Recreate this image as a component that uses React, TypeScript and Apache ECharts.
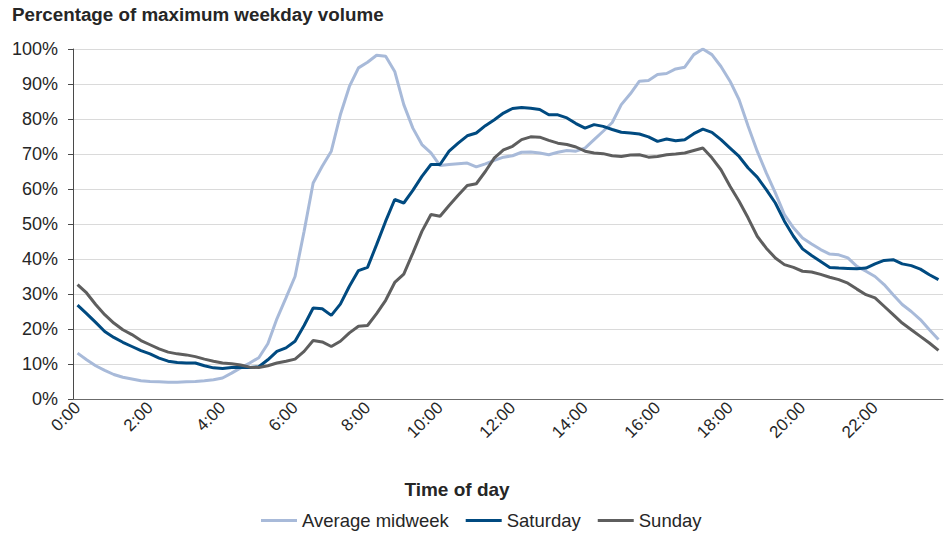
import React, { useEffect, useRef } from "react";
import * as echarts from "echarts";

const times: string[] = [];
for (let h = 0; h < 24; h++) {
  for (let m = 0; m < 60; m += 15) {
    times.push(`${h}:${m === 0 ? "00" : m}`);
  }
}

const midweek = [
  13.1, 11.2, 9.5, 8.2, 7.0, 6.2, 5.7, 5.2, 5.0, 4.9, 4.8, 4.8, 4.9, 5.0, 5.2, 5.5,
  6.0, 7.4, 8.9, 10.3, 11.8, 15.8, 22.9, 28.9, 35.0, 47.9, 61.7, 66.5, 70.8, 81.2, 89.3, 94.6,
  96.2, 98.2, 97.9, 93.6, 84.1, 77.4, 72.7, 70.3, 66.7, 67.0, 67.2, 67.4, 66.3, 67.2, 68.2, 69.1,
  69.5, 70.5, 70.6, 70.3, 69.8, 70.5, 71.0, 70.8, 71.7, 74.1, 76.5, 79.0, 84.1, 87.2, 90.8, 91.0,
  92.7, 93.0, 94.3, 94.8, 98.4, 100.0, 98.4, 95.0, 90.8, 85.5, 77.9, 70.8, 64.6, 58.9, 52.7, 48.9,
  46.0, 44.3, 42.7, 41.4, 41.2, 40.3, 37.9, 36.5, 35.0, 32.7, 29.8, 27.0, 25.0, 22.7, 19.8, 17.0,
];

const saturday = [
  26.8, 24.4, 21.9, 19.3, 17.6, 16.2, 15.0, 13.8, 12.9, 11.7, 10.8, 10.4, 10.3, 10.3, 9.5, 8.9,
  8.7, 9.0, 9.1, 9.0, 9.2, 11.2, 13.6, 14.6, 16.5, 21.0, 26.0, 25.8, 23.9, 27.1, 32.2, 36.7,
  37.6, 44.1, 50.8, 57.0, 56.0, 59.6, 63.6, 67.0, 67.0, 70.8, 73.1, 75.2, 76.0, 78.1, 79.8, 81.7,
  83.0, 83.3, 83.1, 82.7, 81.2, 81.2, 80.3, 78.7, 77.4, 78.4, 77.9, 77.0, 76.2, 76.0, 75.7, 74.9,
  73.6, 74.3, 73.8, 74.1, 75.8, 77.1, 76.2, 74.1, 71.7, 69.3, 66.0, 63.4, 59.8, 56.0, 50.8, 46.5,
  42.9, 41.0, 39.3, 37.6, 37.4, 37.3, 37.2, 37.4, 38.6, 39.6, 39.8, 38.6, 38.1, 37.1, 35.5, 34.1,
];

const sunday = [
  32.7, 30.3, 27.0, 24.1, 21.7, 19.8, 18.4, 16.7, 15.5, 14.3, 13.4, 12.9, 12.6, 12.1, 11.4, 10.8,
  10.3, 10.1, 9.7, 9.1, 9.0, 9.5, 10.3, 10.8, 11.4, 13.6, 16.7, 16.3, 15.0, 16.5, 18.9, 20.8,
  21.0, 24.4, 28.2, 33.3, 35.7, 41.7, 47.9, 52.7, 52.2, 55.3, 58.2, 61.0, 61.5, 65.0, 68.9, 71.2,
  72.2, 74.1, 74.9, 74.8, 73.9, 73.1, 72.7, 72.0, 70.8, 70.3, 70.1, 69.5, 69.3, 69.7, 69.8, 69.1,
  69.3, 69.8, 70.0, 70.3, 71.0, 71.7, 68.9, 65.5, 60.8, 56.5, 51.7, 46.5, 43.1, 40.3, 38.4, 37.6,
  36.5, 36.3, 35.6, 34.8, 34.1, 33.1, 31.4, 29.8, 28.9, 26.5, 24.1, 21.7, 19.8, 17.9, 16.0, 13.9,
];

const seriesNames = ["Average midweek", "Saturday", "Sunday"];
const seriesColors = ["#a8bad9", "#004a80", "#5e5e5e"];

const FONT = "'Liberation Sans', Arial, Helvetica, sans-serif";

export default function App() {
  const ref = useRef<HTMLDivElement>(null);

  useEffect(() => {
    if (!ref.current) return;
    const chart = echarts.init(ref.current, undefined, { renderer: "svg" });
    const dataSets = [midweek, saturday, sunday];
    chart.setOption({
      animation: false,
      backgroundColor: "#ffffff",
      textStyle: { fontFamily: FONT },
      title: {
        text: "Percentage of maximum weekday volume",
        left: 12,
        top: 5,
        padding: 0,
        textStyle: { fontFamily: FONT, fontSize: 18.8, fontWeight: "bold", color: "#262626" },
      },
      graphic: [
        {
          type: "text",
          x: 457,
          y: 489,
          style: {
            text: "Time of day",
            font: `bold 19px ${FONT}`,
            fill: "#262626",
            textAlign: "center",
            textVerticalAlign: "middle",
          },
        },
      ],
      legend: {
        left: 261,
        top: 511,
        padding: 0,
        icon: "rect",
        itemWidth: 36,
        itemHeight: 3,
        itemGap: 17,
        data: seriesNames,
        textStyle: { fontFamily: FONT, fontSize: 18.5, color: "#262626" },
      },
      grid: { left: 73, right: 3, top: 49, bottom: 136, containLabel: false },
      xAxis: {
        type: "category",
        data: times,
        boundaryGap: true,
        axisLine: { lineStyle: { color: "#6b6b6b", width: 1 } },
        axisTick: { interval: 3, length: 5, lineStyle: { color: "#6b6b6b" } },
        axisLabel: {
          interval: 7,
          rotate: 45,
          margin: 6,
          fontSize: 17,
          fontFamily: FONT,
          color: "#262626",
        },
        splitLine: { show: false },
      },
      yAxis: {
        type: "value",
        min: 0,
        max: 100,
        interval: 10,
        axisLine: { show: true, lineStyle: { color: "#4a4a4a", width: 1 } },
        axisTick: { show: true, length: 5, lineStyle: { color: "#4a4a4a" } },
        axisLabel: {
          formatter: "{value}%",
          margin: 15,
          fontSize: 18,
          fontFamily: FONT,
          color: "#262626",
        },
        splitLine: { lineStyle: { color: "#dadada", width: 1 } },
      },
      series: seriesNames.map((name, k) => ({
        name,
        type: "line",
        data: dataSets[k],
        showSymbol: false,
        symbol: "none",
        smooth: false,
        itemStyle: { color: seriesColors[k] },
        lineStyle: { color: seriesColors[k], width: 3 },
        z: 2 + k,
      })),
    });
    return () => chart.dispose();
  }, []);

  return (
    <div
      ref={ref}
      style={{ position: "fixed", left: 0, top: 0, width: 946, height: 535 }}
    />
  );
}
